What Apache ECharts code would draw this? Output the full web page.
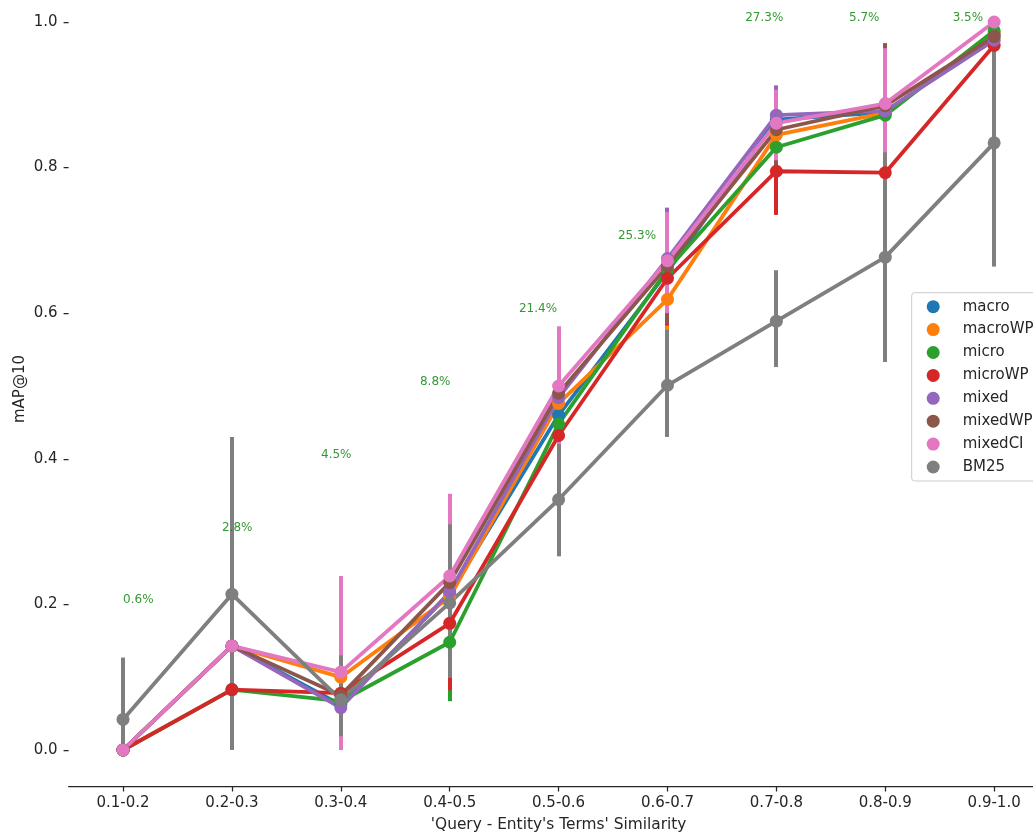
<!DOCTYPE html>
<html>
<head>
<meta charset="utf-8">
<script src="https://cdn.jsdelivr.net/npm/echarts@6/dist/echarts.min.js"></script>
<style>
html,body{margin:0;padding:0;background:#fff;}
#chart{width:1033px;height:834px;}
</style>
</head>
<body>
<div id="chart"></div>
<script>
const categories = ['0.1-0.2','0.2-0.3','0.3-0.4','0.4-0.5','0.5-0.6','0.6-0.7','0.7-0.8','0.8-0.9','0.9-1.0'];
const seriesNames = ['macro','macroWP','micro','microWP','mixed','mixedWP','mixedCI','BM25'];

// mean mAP@10 per bin
const macro   = [0, 0.143, 0.062, 0.215, 0.460, 0.657, 0.866, 0.876, 0.982];
const macroWP = [0, 0.143, 0.100, 0.210, 0.476, 0.619, 0.845, 0.875, 0.985];
const micro   = [0, 0.083, 0.067, 0.148, 0.448, 0.660, 0.828, 0.872, 0.988];
const microWP = [0, 0.083, 0.078, 0.174, 0.432, 0.648, 0.795, 0.793, 0.968];
const mixed   = [0, 0.143, 0.058, 0.217, 0.484, 0.675, 0.872, 0.878, 0.975];
const mixedWP = [0, 0.143, 0.075, 0.230, 0.490, 0.665, 0.852, 0.885, 0.980];
const mixedCI = [0, 0.143, 0.107, 0.239, 0.500, 0.672, 0.861, 0.888, 1.000];
const BM25    = [0.042, 0.214, 0.069, 0.202, 0.344, 0.501, 0.589, 0.677, 0.834];

// error bar lower / upper bounds
const macroLo   = [0, 0, 0, 0.110, 0.390, 0.590, 0.810, 0.810, 0.940];
const macroHi   = [0, 0.300, 0.150, 0.330, 0.530, 0.720, 0.900, 0.940, 1.000];
const macroWPLo = [0, 0, 0, 0.110, 0.400, 0.550, 0.780, 0.810, 0.940];
const macroWPHi = [0, 0.300, 0.200, 0.310, 0.550, 0.700, 0.890, 0.940, 1.000];
const microLo   = [0, 0, 0, 0.067, 0.370, 0.590, 0.780, 0.820, 0.950];
const microHi   = [0, 0.200, 0.140, 0.230, 0.530, 0.725, 0.870, 0.930, 1.000];
const microWPLo = [0, 0, 0, 0.082, 0.360, 0.583, 0.735, 0.765, 0.920];
const microWPHi = [0, 0.200, 0.160, 0.270, 0.500, 0.710, 0.850, 0.820, 1.000];
const mixedLo   = [0, 0, 0, 0.110, 0.410, 0.610, 0.830, 0.820, 0.930];
const mixedHi   = [0, 0.300, 0.150, 0.330, 0.560, 0.745, 0.913, 0.940, 1.000];
const mixedWPLo = [0, 0, 0, 0.120, 0.420, 0.585, 0.800, 0.800, 0.940];
const mixedWPHi = [0, 0.300, 0.200, 0.340, 0.570, 0.735, 0.900, 0.971, 1.000];
const mixedCILo = [0, 0, 0, 0.130, 0.418, 0.600, 0.810, 0.812, 1.000];
const mixedCIHi = [0, 0.300, 0.239, 0.352, 0.582, 0.739, 0.907, 0.964, 1.000];
const BM25Lo    = [0, 0, 0.019, 0.099, 0.266, 0.430, 0.526, 0.533, 0.664];
const BM25Hi    = [0.127, 0.430, 0.130, 0.310, 0.420, 0.577, 0.659, 0.821, 1.000];

// share-of-queries annotations
const annotText = ['0.6%','2.8%','4.5%','8.8%','21.4%','25.3%','27.3%','5.7%','3.5%'];
const annotX    = [0, 0.909, 1.818, 2.727, 3.636, 4.545, 5.714, 6.667, 7.619];
const annotY    = [0.2, 0.3, 0.4, 0.5, 0.6, 0.7, 1.0, 1.0, 1.0];

const yTicks = [0, 0.2, 0.4, 0.6, 0.8, 1.0];

const colors = ['#1f77b4','#ff7f0e','#2ca02c','#d62728','#9467bd','#8c564b','#e377c2','#7f7f7f'];
const means = [macro, macroWP, micro, microWP, mixed, mixedWP, mixedCI, BM25];
const lows  = [macroLo, macroWPLo, microLo, microWPLo, mixedLo, mixedWPLo, mixedCILo, BM25Lo];
const highs = [macroHi, macroWPHi, microHi, microWPHi, mixedHi, mixedWPHi, mixedCIHi, BM25Hi];

const FONT = 'DejaVu Sans';
const TXT = '#262626';
const LW = 3.8;

const series = [];
seriesNames.forEach((name, i) => {
  series.push({
    name: name,
    type: 'line',
    data: means[i],
    symbol: 'circle',
    symbolSize: 13,
    showAllSymbol: true,
    itemStyle: { color: colors[i] },
    lineStyle: { color: colors[i], width: LW },
    emphasis: { disabled: true },
    silent: true,
    clip: false,
    z: 2
  });
  series.push({
    name: name + ' err',
    type: 'custom',
    data: categories.map((c, j) => [j, lows[i][j], highs[i][j]]),
    encode: { x: 0, y: [1, 2] },
    silent: true,
    z: 2,
    renderItem: function (params, api) {
      const x = api.value(0);
      const p1 = api.coord([x, api.value(1)]);
      const p2 = api.coord([x, api.value(2)]);
      if (Math.abs(p1[1] - p2[1]) < 0.01) return null;
      const px = Math.round(p1[0]);
      return {
        type: 'line',
        shape: { x1: px, y1: p1[1], x2: px, y2: p2[1] },
        style: { stroke: colors[i], lineWidth: 4 }
      };
    }
  });
});

series.push({
  name: 'annot',
  type: 'scatter',
  xAxisIndex: 1,
  symbolSize: 0,
  silent: true,
  clip: false,
  data: annotX.map((x, i) => [x, annotY[i], annotText[i]]),
  label: {
    show: true,
    position: [0, 0],
    align: 'left',
    verticalAlign: 'middle',
    offset: [0, -4.2],
    formatter: p => p.data[2],
    color: '#008000',
    fontSize: 12,
    fontFamily: FONT
  },
  z: 5
});

const chart = echarts.init(document.getElementById('chart'), null, { renderer: 'canvas' });
chart.setOption({
  animation: false,
  backgroundColor: '#ffffff',
  grid: { left: 68.6, width: 980, top: 0, bottom: 47.6, containLabel: false, outerBoundsMode: 'none' },
  graphic: [{
    type: 'text',
    x: 20,
    y: 389,
    rotation: Math.PI / 2,
    silent: true,
    style: {
      text: 'mAP@10',
      fontSize: 15,
      fontFamily: FONT,
      fill: TXT,
      align: 'center',
      verticalAlign: 'middle'
    }
  }],
  legend: {
    data: seriesNames,
    orient: 'vertical',
    left: 911.7,
    top: 292.7,
    padding: [6.5, 40, 6.5, 15],
    itemGap: 7.9,
    itemWidth: 13,
    itemHeight: 13,
    icon: 'circle',
    backgroundColor: 'rgba(255,255,255,0.8)',
    borderColor: '#cccccc',
    borderWidth: 1,
    borderRadius: 3,
    textStyle: { fontSize: 15, color: TXT, fontFamily: FONT, padding: [0, 0, 0, 18], lineHeight: 15 },
    selectedMode: false
  },
  xAxis: [{
    type: 'category',
    data: categories,
    boundaryGap: true,
    axisLine: { show: true, onZero: false, lineStyle: { color: TXT, width: 1.25 } },
    axisTick: { show: true, alignWithLabel: true, length: 5, lineStyle: { color: TXT, width: 1.25 } },
    axisLabel: { fontSize: 15, color: TXT, fontFamily: FONT, margin: 9 },
    splitLine: { show: false },
    name: "'Query - Entity's Terms' Similarity",
    nameLocation: 'middle',
    nameGap: 31.5,
    nameTextStyle: { fontSize: 15.4, color: TXT, fontFamily: FONT }
  }, {
    type: 'value',
    min: -0.5,
    max: 8.5,
    show: false,
    axisLine: { onZero: false }
  }],
  yAxis: {
    type: 'value',
    min: -0.05,
    max: 1.0302,
    axisLine: { show: false, onZero: false },
    axisTick: { show: true, length: 5, customValues: yTicks, lineStyle: { color: TXT, width: 1.25 } },
    axisLabel: { show: true, customValues: yTicks, fontSize: 15, color: TXT, fontFamily: FONT, margin: 11,
      formatter: v => v.toFixed(1) },
    splitLine: { show: false }
  },
  series: series
});
</script>
</body>
</html>
